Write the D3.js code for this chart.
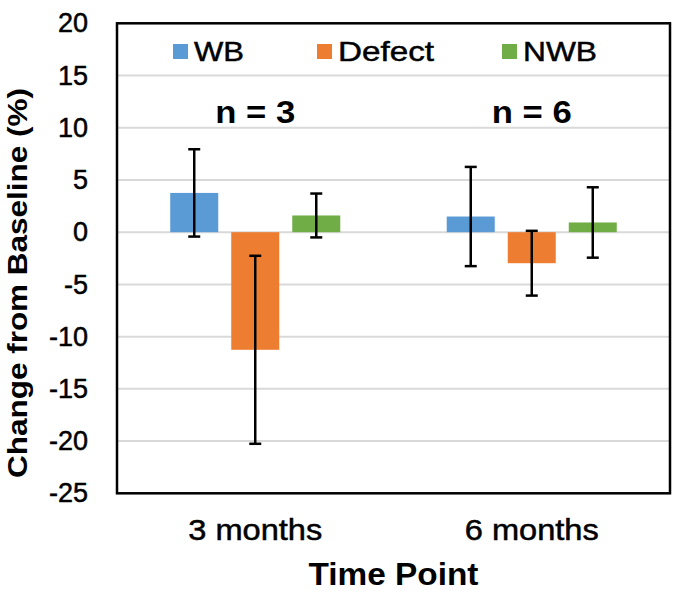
<!DOCTYPE html>
<html>
<head>
<meta charset="utf-8">
<script src="https://cdn.jsdelivr.net/npm/d3@7"></script>
<style>
  body { margin: 0; background: #fff; }
  svg { display: block; }
  text { font-family: "Liberation Sans", Arial, sans-serif; fill: #000; }
</style>
</head>
<body>
<div id="chart"></div>
<script>
// data
const categories = ["3 months", "6 months"];
const series = ["WB", "Defect", "NWB"];
const colors = ["#5b9bd5", "#ed7d31", "#70ad47"];
const wb = [3.76, 1.5];
const defect = [-11.26, -2.97];
const nwb = [1.6, 0.93];
const wbErr = [4.18, 4.75];
const defectErr = [9.0, 3.1];
const nwbErr = [2.1, 3.37];
const nLabels = ["n = 3", "n = 6"];
const yTicks = [20, 15, 10, 5, 0, -5, -10, -15, -20, -25];

const values = [wb, defect, nwb];
const errors = [wbErr, defectErr, nwbErr];

const w = 682, h = 596;
const pLeft = 117, pRight = 670, pTop = 23.3, pBottom = 493.3;

const svg = d3.select('#chart')
  .append('svg')
  .attr('width', w)
  .attr('height', h);

const y = d3.scaleLinear()
  .domain([-25, 20])
  .range([pBottom, pTop]);

const x0 = d3.scaleBand()
  .domain(categories)
  .range([pLeft, pRight])
  .paddingInner(0.338)
  .paddingOuter(0.169);

const x1 = d3.scaleBand()
  .domain(series)
  .range([0, x0.bandwidth()])
  .paddingInner(0.213)
  .paddingOuter(0.1065);

// gridlines
svg.append('g')
  .selectAll('line')
  .data(yTicks)
  .enter()
  .append('line')
  .attr('x1', pLeft)
  .attr('x2', pRight)
  .attr('y1', d => y(d))
  .attr('y2', d => y(d))
  .attr('stroke', '#d9d9d9')
  .attr('stroke-width', 2);

// y axis labels (plain hyphen minus like the original)
const yAxis = d3.axisLeft(y)
  .tickValues(yTicks)
  .tickFormat(d => String(d))
  .tickSize(0)
  .tickPadding(29);

svg.append('g')
  .attr('transform', `translate(${pLeft}, 0)`)
  .call(yAxis)
  .call(g => g.select('.domain').remove())
  .selectAll('text')
  .style('font-family', '"Liberation Sans", Arial, sans-serif')
  .style('font-size', '27px')
  .attr('fill', '#000')
  .attr('stroke', '#000')
  .attr('stroke-width', 0.5);

// bars
const rows = [];
series.forEach((s, si) => {
  categories.forEach((c, ci) => {
    rows.push({ s, c, si, v: values[si][ci], e: errors[si][ci] });
  });
});

svg.append('g')
  .selectAll('rect')
  .data(rows)
  .enter()
  .append('rect')
  .attr('x', d => x0(d.c) + x1(d.s))
  .attr('y', d => y(Math.max(0, d.v)))
  .attr('width', x1.bandwidth())
  .attr('height', d => Math.abs(y(d.v) - y(0)))
  .attr('fill', d => colors[d.si]);

// error bars
const capW = 12;
const cx = d => x0(d.c) + x1(d.s) + x1.bandwidth() / 2;
const err = svg.append('g')
  .attr('stroke', '#000')
  .attr('stroke-width', 2.5)
  .selectAll('g')
  .data(rows)
  .enter()
  .append('g');

err.append('line')
  .attr('x1', cx)
  .attr('x2', cx)
  .attr('y1', d => y(d.v + d.e))
  .attr('y2', d => y(d.v - d.e));

err.append('line')
  .attr('x1', d => cx(d) - capW / 2)
  .attr('x2', d => cx(d) + capW / 2)
  .attr('y1', d => y(d.v + d.e))
  .attr('y2', d => y(d.v + d.e));

err.append('line')
  .attr('x1', d => cx(d) - capW / 2)
  .attr('x2', d => cx(d) + capW / 2)
  .attr('y1', d => y(d.v - d.e))
  .attr('y2', d => y(d.v - d.e));

// plot border
svg.append('rect')
  .attr('x', pLeft)
  .attr('y', pTop)
  .attr('width', pRight - pLeft)
  .attr('height', pBottom - pTop)
  .attr('fill', 'none')
  .attr('stroke', '#000')
  .attr('stroke-width', 2.5);

// legend
const legendX = [173, 317, 502];
const legendW = [50, 96, 74];
const legend = svg.append('g')
  .selectAll('g')
  .data(series)
  .enter()
  .append('g')
  .attr('transform', (d, i) => `translate(${legendX[i]}, 0)`);

legend.append('rect')
  .attr('x', 0)
  .attr('y', 44)
  .attr('width', 15)
  .attr('height', 15)
  .attr('fill', (d, i) => colors[i]);

legend.append('text')
  .attr('x', 21)
  .attr('y', 61)
  .attr('textLength', (d, i) => legendW[i])
  .attr('lengthAdjust', 'spacingAndGlyphs')
  .attr('stroke', '#000')
  .attr('stroke-width', 0.5)
  .style('font-size', '28px')
  .text(d => d);

// n labels
svg.append('g')
  .selectAll('text')
  .data(nLabels)
  .enter()
  .append('text')
  .attr('x', (d, i) => x0(categories[i]) + x0.bandwidth() / 2)
  .attr('y', 123)
  .attr('text-anchor', 'middle')
  .attr('textLength', 80)
  .attr('lengthAdjust', 'spacingAndGlyphs')
  .style('font-size', '31px')
  .style('font-weight', 'bold')
  .text(d => d);

// category labels
svg.append('g')
  .selectAll('text')
  .data(categories)
  .enter()
  .append('text')
  .attr('x', d => x0(d) + x0.bandwidth() / 2)
  .attr('y', 540)
  .attr('text-anchor', 'middle')
  .attr('textLength', 134)
  .attr('lengthAdjust', 'spacingAndGlyphs')
  .attr('stroke', '#000')
  .attr('stroke-width', 0.5)
  .style('font-size', '29px')
  .text(d => d);

// axis titles
svg.append('text')
  .attr('x', (pLeft + pRight) / 2)
  .attr('y', 585)
  .attr('text-anchor', 'middle')
  .attr('textLength', 170)
  .attr('lengthAdjust', 'spacingAndGlyphs')
  .style('font-size', '31px')
  .style('font-weight', 'bold')
  .text('Time Point');

svg.append('text')
  .attr('transform', `translate(27, 283) rotate(-90)`)
  .attr('text-anchor', 'middle')
  .attr('textLength', 390)
  .attr('lengthAdjust', 'spacingAndGlyphs')
  .style('font-size', '27px')
  .style('font-weight', 'bold')
  .text('Change from Baseline (%)');
</script>
</body>
</html>
